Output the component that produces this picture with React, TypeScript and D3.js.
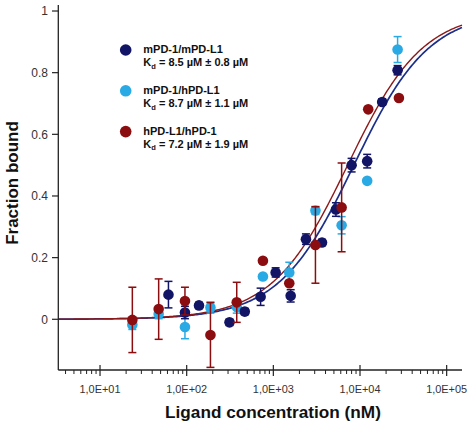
import React from "react";
import * as d3 from "d3";

const xTickLabels = ["1,0E+01", "1,0E+02", "1,0E+03", "1,0E+04", "1,0E+05"];
const xTickValues = [1e1, 1e2, 1e3, 1e4, 1e5];
const yTickValues = [0, 0.2, 0.4, 0.6, 0.8, 1];
const yTickLabels = ["0", "0.2", "0.4", "0.6", "0.8", "1"];

// mPD-1/mPD-L1 (navy)
const navyConc = [61.6, 95.5, 138.7, 312, 468, 713, 1063, 1585, 2378, 3640, 5275, 8000, 12100, 18030, 27150];
const navyVal = [0.08, 0.022, 0.045, -0.01, 0.025, 0.073, 0.152, 0.076, 0.26, 0.249, 0.356, 0.5, 0.513, 0.705, 0.808];
const navyErr = [0.043, 0.02, 0.01, 0.01, 0.01, 0.028, 0.015, 0.02, 0.017, 0.01, 0.022, 0.022, 0.022, 0.01, 0.015];

// mPD-1/hPD-L1 (light blue)
const lbConc = [23.6, 47.5, 95.5, 188, 378, 758, 1527, 3060, 6136, 12100, 27150];
const lbVal = [-0.018, 0.017, -0.025, 0.038, 0.04, 0.139, 0.152, 0.353, 0.305, 0.449, 0.875];
const lbErr = [0.015, 0.015, 0.038, 0.018, 0.02, 0, 0.033, 0.013, 0.028, 0, 0.042];

// hPD-L1/hPD-1 (dark red)
const redConc = [23.6, 47.5, 95.5, 188, 378, 758, 1527, 3060, 6136, 12440, 28120];
const redVal = [-0.002, 0.033, 0.059, -0.051, 0.055, 0.19, 0.117, 0.241, 0.363, 0.681, 0.718];
const redErr = [0.106, 0.098, 0.045, 0.105, 0.065, 0, 0, 0.124, 0.144, 0, 0];

const seriesNames = ["mPD-1/mPD-L1", "mPD-1/hPD-L1", "hPD-L1/hPD-1"];
const kdTexts = [" = 8.5 µM ± 0.8 µM", " = 8.7 µM ± 1.1 µM", " = 7.2 µM ± 1.9 µM"];
const fitKd = [8500, 7200]; // nM, navy & red fits

const NAVY = "#121466";
const LBLUE = "#2aaae4";
const RED = "#8c0d0f";
const FONT = "'Liberation Sans', Arial, Helvetica, sans-serif";

export default function App() {
  const W = 474, H = 425;
  const x = d3.scaleLog().domain([3.3, 150300]).range([58.3, 462]);
  const y = d3.scaleLinear().domain([-0.1645, 1.0195]).range([370, 5]);

  const minor: number[] = [];
  for (let e = 0; e <= 5; e++) {
    for (let m = 2; m <= 9; m++) {
      const v = m * Math.pow(10, e);
      if (v >= 3.3 && v <= 150300) minor.push(v);
    }
  }

  const fitX = d3.range(0, 301).map((i) => Math.pow(10, Math.log10(3.3) + (i / 300) * (Math.log10(150300) - Math.log10(3.3))));
  const line = d3.line<number>().x((d) => x(d));
  const fitPath = (kd: number) =>
    d3.line<number>().x((d) => x(d)).y((d) => y(d / (kd + d))).curve(d3.curveLinear)(fitX) || "";

  const series = [
    { conc: lbConc, val: lbVal, err: lbErr, color: LBLUE },
    { conc: navyConc, val: navyVal, err: navyErr, color: NAVY },
    { conc: redConc, val: redVal, err: redErr, color: RED },
  ];
  const legendColors = [NAVY, LBLUE, RED];

  return (
    <svg width={W} height={H} style={{ position: "absolute", left: 0, top: 0, background: "#fff" }} fontFamily={FONT}>
      {/* fits */}
      <path d={fitPath(fitKd[0])} fill="none" stroke="#1c2f8a" strokeWidth={1.7} />
      <path d={fitPath(fitKd[1])} fill="none" stroke="#8c1a1a" strokeWidth={1.4} />

      {/* error bars and points */}
      {series.map((s, si) => (
        <g key={si}>
          {s.conc.map((c, i) =>
            s.err[i] > 0 ? (
              <g key={i} stroke={s.color} strokeWidth={1.5}>
                <line x1={x(c)} x2={x(c)} y1={y(s.val[i] - s.err[i])} y2={y(s.val[i] + s.err[i])} />
                <line x1={x(c) - 4} x2={x(c) + 4} y1={y(s.val[i] - s.err[i])} y2={y(s.val[i] - s.err[i])} />
                <line x1={x(c) - 4} x2={x(c) + 4} y1={y(s.val[i] + s.err[i])} y2={y(s.val[i] + s.err[i])} />
              </g>
            ) : null
          )}
          {s.conc.map((c, i) => (
            <circle key={"c" + i} cx={x(c)} cy={y(s.val[i])} r={5.3} fill={s.color} />
          ))}
        </g>
      ))}

      {/* axes */}
      <line x1={58.3} x2={58.3} y1={5} y2={370} stroke="#222" strokeWidth={1.3} />
      <line x1={58.3} x2={462} y1={370} y2={370} stroke="#222" strokeWidth={1.3} />
      {yTickValues.map((v, i) => (
        <g key={i}>
          <line x1={52} x2={58.3} y1={y(v)} y2={y(v)} stroke="#222" strokeWidth={1.2} />
          <text x={48} y={y(v)} dy="0.36em" textAnchor="end" fontSize={12} fill="#333">
            {yTickLabels[i]}
          </text>
        </g>
      ))}
      {minor.map((v, i) => (
        <line key={i} x1={x(v)} x2={x(v)} y1={370} y2={374} stroke="#222" strokeWidth={1} />
      ))}
      {xTickValues.map((v, i) => (
        <g key={i}>
          <line x1={x(v)} x2={x(v)} y1={365} y2={376} stroke="#222" strokeWidth={1.2} />
          <text x={x(v)} y={392.5} textAnchor="middle" fontSize={11.5} fill="#333" textLength={41} lengthAdjust="spacingAndGlyphs">
            {xTickLabels[i]}
          </text>
        </g>
      ))}

      {/* titles */}
      <text x={273} y={418} textAnchor="middle" fontSize={17.2} fontWeight="bold" fill="#111">
        Ligand concentration (nM)
      </text>
      <text transform="translate(18,183) rotate(-90)" textAnchor="middle" fontSize={17} fontWeight="bold" fill="#111">
        Fraction bound
      </text>

      {/* legend */}
      {seriesNames.map((name, i) => {
        const cy = 50 + i * 40.8;
        return (
          <g key={i}>
            <circle cx={125.7} cy={cy} r={5.8} fill={legendColors[i]} />
            <text x={143.3} y={cy + 3.2} fontSize={11} fontWeight="bold" fill="#111">
              {name}
            </text>
            <text x={143.3} y={cy + 16.2} fontSize={11} fontWeight="bold" fill="#111">
              K
              <tspan fontSize={7.5} dy={2.5}>d</tspan>
              <tspan dy={-2.5}>{kdTexts[i]}</tspan>
            </text>
          </g>
        );
      })}
    </svg>
  );
}
